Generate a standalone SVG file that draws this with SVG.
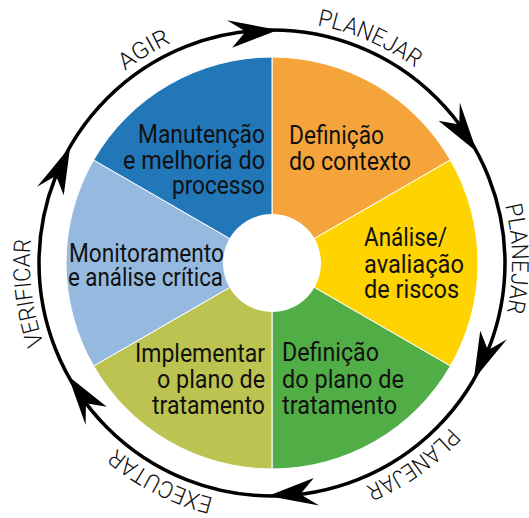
<svg xmlns="http://www.w3.org/2000/svg" xmlns:xlink="http://www.w3.org/1999/xlink" width="529" height="518" viewBox="0 0 529 518">
<style>
.sec{stroke:#fff;stroke-width:1}
.lbl{font-family:Roboto,"Liberation Sans",sans-serif;font-size:26px;fill:#111}
.ring{font-family:Roboto,"Liberation Sans",sans-serif;font-weight:300;font-size:23.5px;fill:#111}
</style>
<defs>
<path id="ah" d="M272,30 L220.6,21.4 L239.6,32.3 L226.5,48.8 Z" fill="#000"/>
<path id="p1" d="M43.2,184.2 A242,242 0 0 1 309.9,24"/>
<path id="p2" d="M203.3,31 A242,242 0 0 1 488.6,155"/>
<path id="p3" d="M453.1,105.5 A240,240 0 0 1 458.5,414"/>
<path id="p4" d="M505.8,325.6 A242,242 0 0 1 250.9,504.1"/>
<path id="p5" d="M326.4,498.8 A242,242 0 0 1 49.2,357.5"/>
<path id="p6" d="M106.9,440 A242,242 0 0 1 69,131.2"/>
</defs>
<rect width="529" height="518" fill="#fff"/>
<g id="definicao-contexto">
<path class="sec" fill="#F5A43C" d="M272,263 L272,57 A206,206 0 0 1 450.4,160 Z"/>
<text class="lbl" x="289" y="144" textLength="95" lengthAdjust="spacingAndGlyphs">Definição</text>
<text class="lbl" x="289" y="170" textLength="122" lengthAdjust="spacingAndGlyphs">do contexto</text>
</g>
<g id="analise-riscos">
<path class="sec" fill="#FED300" d="M272,263 L450.4,160 A206,206 0 0 1 450.4,366 Z"/>
<text class="lbl" x="364" y="246" textLength="83" lengthAdjust="spacingAndGlyphs">Análise/</text>
<text class="lbl" x="364" y="273" textLength="100" lengthAdjust="spacingAndGlyphs">avaliação</text>
<text class="lbl" x="364" y="298" textLength="95" lengthAdjust="spacingAndGlyphs">de riscos</text>
</g>
<g id="definicao-plano">
<path class="sec" fill="#51AE46" d="M272,263 L450.4,366 A206,206 0 0 1 272,469 Z"/>
<text class="lbl" x="282" y="361" textLength="97" lengthAdjust="spacingAndGlyphs">Definição</text>
<text class="lbl" x="282" y="388" textLength="122" lengthAdjust="spacingAndGlyphs">do plano de</text>
<text class="lbl" x="282" y="414" textLength="115" lengthAdjust="spacingAndGlyphs">tratamento</text>
</g>
<g id="implementar-plano">
<path class="sec" fill="#BDC350" d="M272,263 L272,469 A206,206 0 0 1 93.6,366 Z"/>
<text class="lbl" x="135" y="362" textLength="130" lengthAdjust="spacingAndGlyphs">Implementar</text>
<text class="lbl" x="157" y="388" textLength="108" lengthAdjust="spacingAndGlyphs">o plano de</text>
<text class="lbl" x="152" y="414" textLength="113" lengthAdjust="spacingAndGlyphs">tratamento</text>
</g>
<g id="monitoramento">
<path class="sec" fill="#96BADF" d="M272,263 L93.6,366 A206,206 0 0 1 93.6,160 Z"/>
<text class="lbl" x="69" y="262" textLength="155" lengthAdjust="spacingAndGlyphs">Monitoramento</text>
<text class="lbl" x="68" y="286" textLength="155" lengthAdjust="spacingAndGlyphs">e análise crítica</text>
</g>
<g id="manutencao">
<path class="sec" fill="#2277B8" d="M272,263 L93.6,160 A206,206 0 0 1 272,57 Z"/>
<text class="lbl" x="138" y="143" textLength="127" lengthAdjust="spacingAndGlyphs">Manutenção</text>
<text class="lbl" x="123" y="169" textLength="142" lengthAdjust="spacingAndGlyphs">e melhoria do</text>
<text class="lbl" x="172" y="194" textLength="93" lengthAdjust="spacingAndGlyphs">processo</text>
</g>
<circle cx="272" cy="263" r="49" fill="#fff"/>
<g id="connectors">
<circle cx="272" cy="263" r="233" fill="none" stroke="#000" stroke-width="3.5"/>
<use xlink:href="#ah" transform="rotate(1.5 272 263)"/>
<use xlink:href="#ah" transform="rotate(61.5 272 263)"/>
<use xlink:href="#ah" transform="rotate(120 272 263)"/>
<use xlink:href="#ah" transform="rotate(181 272 263)"/>
<use xlink:href="#ah" transform="rotate(241 272 263)"/>
<use xlink:href="#ah" transform="rotate(300 272 263)"/>
</g>
<g id="ring-labels" class="ring">
<text><textPath xlink:href="#p1" startOffset="50%" text-anchor="middle" textLength="54" lengthAdjust="spacingAndGlyphs">AGIR</textPath></text>
<text><textPath xlink:href="#p2" startOffset="50%" text-anchor="middle" textLength="108" lengthAdjust="spacingAndGlyphs">PLANEJAR</textPath></text>
<text><textPath xlink:href="#p3" startOffset="50%" text-anchor="middle" textLength="108" lengthAdjust="spacingAndGlyphs">PLANEJAR</textPath></text>
<text><textPath xlink:href="#p4" startOffset="50%" text-anchor="middle" textLength="104" lengthAdjust="spacingAndGlyphs">PLANEJAR</textPath></text>
<text><textPath xlink:href="#p5" startOffset="50%" text-anchor="middle" textLength="110" lengthAdjust="spacingAndGlyphs">EXECUTAR</textPath></text>
<text><textPath xlink:href="#p6" startOffset="50%" text-anchor="middle" textLength="106" lengthAdjust="spacingAndGlyphs">VERIFICAR</textPath></text>
</g>
</svg>
